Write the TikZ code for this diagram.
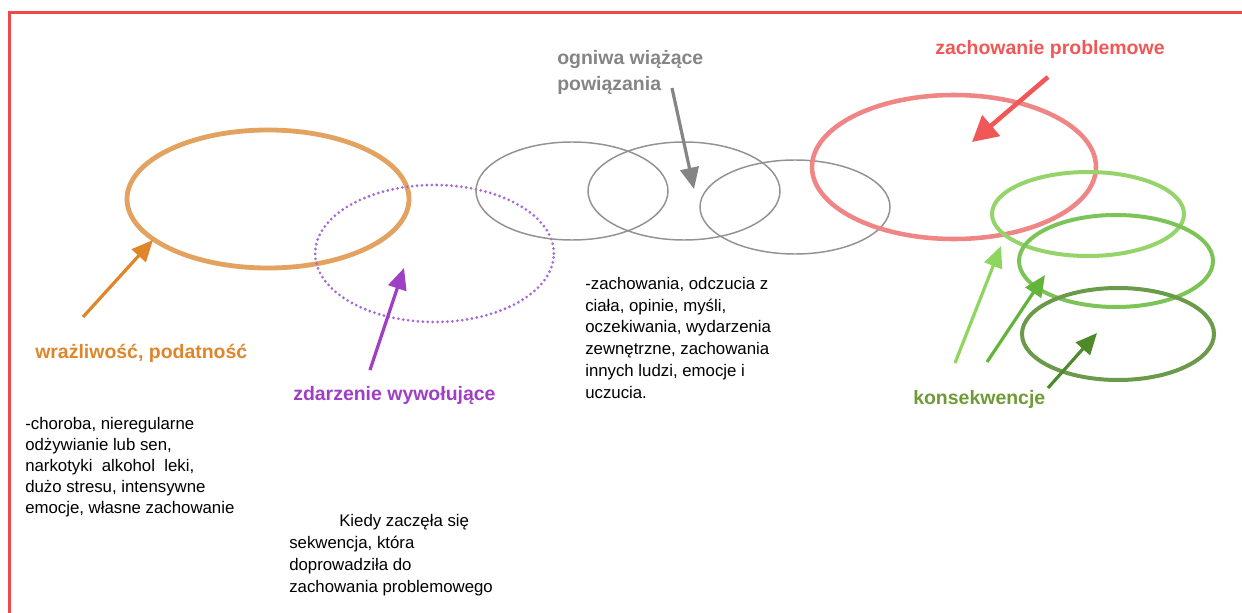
\documentclass[tikz,border=0pt]{standalone}
\usepackage{fontspec}
\setmainfont{Liberation Sans}
\usetikzlibrary{shapes.geometric,arrows.meta}
\definecolor{frameRed}{HTML}{F04848}
\definecolor{orEll}{HTML}{E3A25F}
\definecolor{orTxt}{HTML}{E0862A}
\definecolor{puEll}{HTML}{A968D4}
\definecolor{puTxt}{HTML}{9E3FC4}
\definecolor{grEll}{HTML}{929292}
\definecolor{grTxt}{HTML}{858585}
\definecolor{rdEll}{HTML}{F08585}
\definecolor{rdTxt}{HTML}{F25757}
\definecolor{gnA}{HTML}{94D46A}
\definecolor{gnB}{HTML}{7CC457}
\definecolor{gnC}{HTML}{6A9A4A}
\definecolor{gnTxt}{HTML}{6E9B35}
\definecolor{gnArA}{HTML}{8ED65E}
\definecolor{gnArB}{HTML}{62B43A}
\definecolor{gnArC}{HTML}{4E8A2A}
\tikzset{
  ell/.style={ellipse, inner sep=0pt, outer sep=0pt},
  label/.style={font=\fontsize{14.6}{17}\selectfont\bfseries, inner sep=0pt, anchor=west},
  body/.style={font=\fontsize{12.6}{15.8}\selectfont, inner sep=0pt, anchor=north west, align=left},
  pointer/.style={line width=2.4pt, -{Triangle[length=16pt,width=14pt]}},
}
\begin{document}
\begin{tikzpicture}[x=0.75pt,y=-0.75pt]
\useasboundingbox (0,0) rectangle (1242,613);
\fill[white] (0,0) rectangle (1242,613);
\draw[frameRed, line width=1.6pt] (9.5,613) -- (9.5,12.5) -- (1242,12.5);

% ellipses
\node[ell, draw=orEll, line width=3.6pt, minimum width=211.5pt, minimum height=103.5pt] (vuln) at (268,199) {};
\node[ell, draw=puEll, line width=2.3pt, dash pattern=on 0pt off 3.7pt, line cap=round, minimum width=179pt, minimum height=102.75pt] (trig) at (434.5,253.5) {};
\node[ell, draw=grEll, line width=1.1pt, minimum width=144pt, minimum height=73.5pt] (linkA) at (572,191) {};
\node[ell, draw=grEll, line width=1.1pt, minimum width=144pt, minimum height=73.5pt] (linkB) at (684,191) {};
\node[ell, draw=grEll, line width=1.1pt, minimum width=142.5pt, minimum height=70.5pt] (linkC) at (795,207) {};
\node[ell, draw=rdEll, line width=3.4pt, minimum width=213pt, minimum height=108pt] (prob) at (954,167) {};
\node[ell, draw=gnA, line width=3pt, minimum width=144pt, minimum height=63pt] (consA) at (1088,214) {};
\node[ell, draw=gnB, line width=3pt, minimum width=145.5pt, minimum height=69pt] (consB) at (1116,261) {};
\node[ell, draw=gnC, line width=3pt, minimum width=144pt, minimum height=69pt] (consC) at (1118,334) {};

% labels
\node[label, text=orTxt] (lvuln) at (35,353) {wrażliwość, podatność};
\node[label, text=puTxt] (ltrig) at (293,395) {zdarzenie wywołujące};
\node[label, text=grTxt, anchor=north west, align=left, font=\fontsize{14.6}{19.5}\selectfont\bfseries] (llink) at (557,50) {ogniwa wiążące\\powiązania};
\node[label, text=rdTxt] (lprob) at (935,49) {zachowanie problemowe};
\node[label, text=gnTxt] (lcons) at (913,399) {konsekwencje};

% body texts
\node[body] (tvuln) at (25,417) {-choroba, nieregularne\\odżywianie lub sen,\\narkotyki\ \ alkohol\ \ leki,\\dużo stresu, intensywne\\emocje, własne zachowanie};
\node[body, font=\fontsize{12.6}{16.4}\selectfont] (ttrig) at (289,514) {\hspace*{37.5pt}Kiedy zaczęła się\\sekwencja, która\\doprowadziła do\\zachowania problemowego};
\node[body, font=\fontsize{12.6}{16.3}\selectfont] (tlink) at (585,277) {-zachowania, odczucia z\\ciała, opinie, myśli,\\oczekiwania, wydarzenia\\zewnętrzne, zachowania\\innych ludzi, emocje i\\uczucia.};

% arrow end points
\coordinate (aVs) at (83,317);  \coordinate (aVe) at (153,240);
\coordinate (aTs) at (370,370); \coordinate (aTe) at (404,268);
\coordinate (aLs) at (672,88);  \coordinate (aLe) at (694,189);
\coordinate (aPs) at (1048,77); \coordinate (aPe) at (972,142);
\coordinate (aAs) at (955,363); \coordinate (aAe) at (1001,246);
\coordinate (aBs) at (987,362); \coordinate (aBe) at (1045,275);
\coordinate (aCs) at (1048,388);\coordinate (aCe) at (1097,333);

\draw[pointer, orTxt] (aVs) -- (aVe);
\draw[pointer, puTxt] (aTs) -- (aTe);
\draw[pointer, grTxt] (aLs) -- (aLe);
\draw[pointer, rdTxt, line width=3.4pt, -{Triangle[length=19pt,width=20pt]}] (aPs) -- (aPe);
\draw[pointer, gnArA] (aAs) -- (aAe);
\draw[pointer, gnArB] (aBs) -- (aBe);
\draw[pointer, gnArC] (aCs) -- (aCe);
\end{tikzpicture}
\end{document}
